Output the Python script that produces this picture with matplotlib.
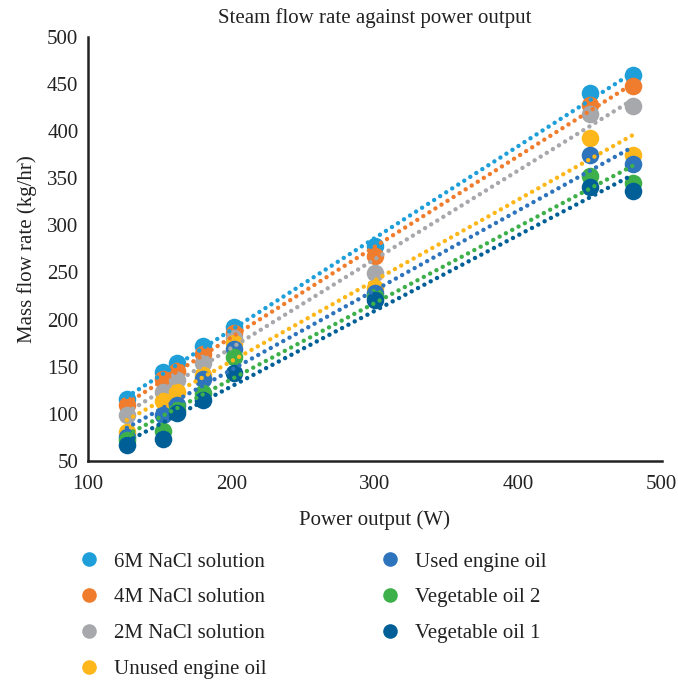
import numpy as np
import matplotlib
matplotlib.use("Agg")
import matplotlib.pyplot as plt
from matplotlib.lines import Line2D

power = [127, 152, 162, 180, 202, 300, 450, 480]

series_names = ["6M NaCl solution", "4M NaCl solution", "2M NaCl solution",
                "Unused engine oil", "Used engine oil", "Vegetable oil 2",
                "Vegetable oil 1"]

nacl_6m = [116, 144, 154, 172, 192, 278, 440, 459]
nacl_4m = [109, 137, 146, 164, 186, 268, 428, 448]
nacl_2m = [99, 123, 136, 154, 181, 249, 418, 427]
unused_oil = [81, 114, 123, 141, 175, 234, 393, 375]
used_oil = [75, 99, 109, 137, 169, 228, 375, 365]
veg_oil_2 = [72, 82, 104, 122, 160, 224, 352, 345]
veg_oil_1 = [67, 73, 101, 115, 143, 221, 341, 336]

values = [nacl_6m, nacl_4m, nacl_2m, unused_oil, used_oil, veg_oil_2, veg_oil_1]
colors = ["#1F9FD9", "#F07C2E", "#A7A8AC", "#FDB71A", "#2E74BD", "#3DB04A", "#005F96"]

plt.rcParams['font.family'] = ['Liberation Serif', 'DejaVu Serif']
FS = 15
TXT = '#222222'

fig = plt.figure(figsize=(6.78, 6.82), dpi=100)
ax = fig.add_axes([0.130, 0.324, 0.846, 0.622])

x = np.array(power, dtype=float)
for vals, col, name in zip(values, colors, series_names):
    ax.scatter(x, vals, s=160, color=col, zorder=2, linewidths=0, label=name)

for vals, col in zip(values, colors):
    k, b = np.polyfit(x, np.array(vals, dtype=float), 1)
    xs = np.array([x.min(), x.max()])
    ax.plot(xs, k * xs + b, color=col, lw=3.2, linestyle=(0, (0.01, 1.6)),
            dash_capstyle='round', zorder=3)

ax.set_xlim(100, 500)
ax.set_ylim(50, 500)
ax.set_xticks([100, 200, 300, 400, 500])
ax.set_yticks(np.arange(50, 501, 50))
ax.tick_params(length=0, labelsize=FS, colors=TXT)
ax.tick_params(axis='x', pad=10)
ax.tick_params(axis='y', pad=7)
for s in ['top', 'right']:
    ax.spines[s].set_visible(False)
for s in ['left', 'bottom']:
    ax.spines[s].set_linewidth(1.8)
    ax.spines[s].set_color(TXT)

ax.set_title("Steam flow rate against power output", fontsize=FS, color=TXT, pad=10)
ax.set_xlabel("Power output (W)", fontsize=FS, color=TXT, labelpad=12)
ax.set_ylabel("Mass flow rate (kg/hr)", fontsize=FS, color=TXT, labelpad=7)

handles = [Line2D([], [], marker='o', linestyle='none', markersize=10.5,
                  markerfacecolor=c, markeredgewidth=0) for c in colors]
fig.legend(handles, series_names, ncol=2, loc='upper left',
           bbox_to_anchor=(0.088, 0.218), frameon=False, fontsize=FS,
           handlelength=1.0, handletextpad=0.7, columnspacing=5.45,
           labelspacing=0.78, labelcolor=TXT)

fig.savefig("out.png", dpi=100)
